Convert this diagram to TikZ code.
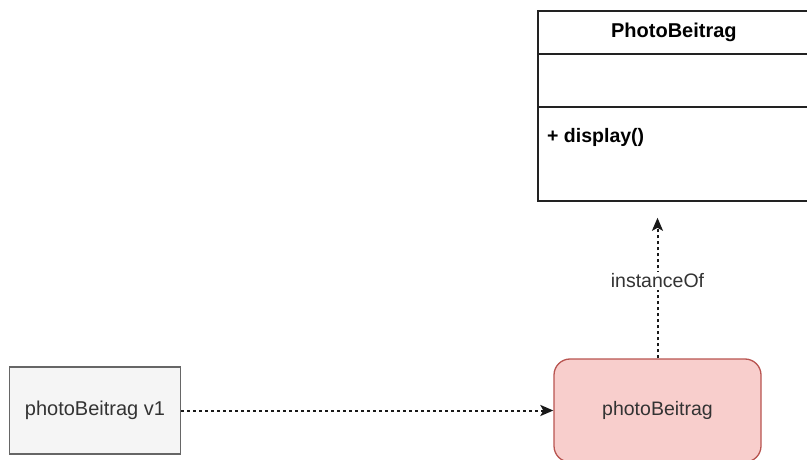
\documentclass[tikz,border=0pt]{standalone}
\usepackage{fontspec}
\setmainfont{Liberation Sans}
\usetikzlibrary{arrows.meta}
\definecolor{grayfill}{HTML}{F5F5F5}
\definecolor{grayline}{HTML}{666666}
\definecolor{graytext}{HTML}{333333}
\definecolor{redfill}{HTML}{F8CECC}
\definecolor{redline}{HTML}{B85450}
\definecolor{clsline}{HTML}{222222}
\tikzset{
  objbox/.style={draw=grayline, fill=grayfill, line width=1.3pt, text=graytext, inner sep=0pt, font=\fontsize{20}{23}\selectfont},
  instbox/.style={draw=redline, fill=redfill, line width=1.3pt, rounded corners=16pt, text=graytext, inner sep=0pt, font=\fontsize{19.5}{23}\selectfont},
  clspart/.style={draw=clsline, line width=1.8pt, inner sep=0pt},
  dashconn/.style={draw=black!90, line width=2pt, dash pattern=on 3pt off 3pt, -{Stealth[length=13pt,width=11pt,inset=3pt]}},
  lbl/.style={fill=white, text=graytext, inner sep=2pt, font=\fontsize{19.5}{23}\selectfont}
}
\begin{document}
\begin{tikzpicture}[x=1pt,y=-1pt]
\useasboundingbox (0,0) rectangle (807,460);
\clip (0,0) rectangle (807,460);
% class box
\node[clspart, minimum width=272pt, minimum height=43pt, anchor=north west, font=\bfseries\fontsize{20}{23}\selectfont] (clshead) at (537,10) {PhotoBeitrag};
\node[clspart, minimum width=272pt, minimum height=53pt, anchor=north west] (clsattr) at (537,53) {};
\node[clspart, minimum width=272pt, minimum height=94pt, anchor=north west] (clsmeth) at (537,106) {};
\node[anchor=west, inner sep=0pt, font=\bfseries\fontsize{19.5}{23}\selectfont] (meth) at (547,137) {+ display()};
% objects
\node[objbox, minimum width=171pt, minimum height=87pt] (v1) at (95,410.5) {photoBeitrag v1};
\node[instbox, minimum width=207pt, minimum height=103pt] (inst) at (657.5,410.5) {photoBeitrag};
% connectors
\draw[dashconn] (v1.east) -- (inst.west);
\draw[dashconn, shorten >=16pt] (inst.north) -- node[lbl, pos=0.495] {instanceOf} (inst.north |- clsmeth.south);
\end{tikzpicture}
\end{document}
